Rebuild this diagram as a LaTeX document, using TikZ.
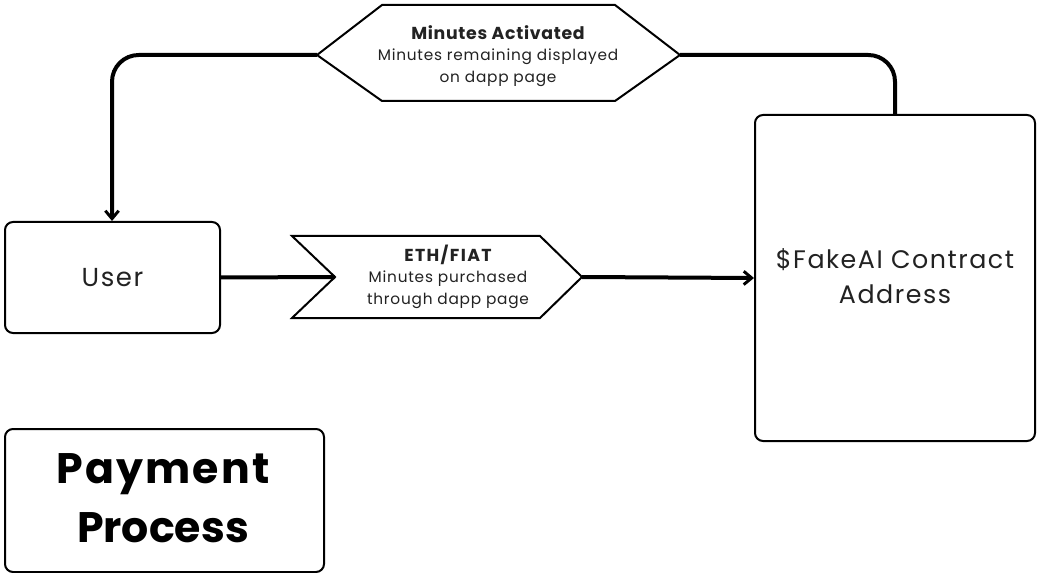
\documentclass[tikz,border=0pt]{standalone}
\usetikzlibrary{arrows.meta}
\usepackage{fontspec}
\setmainfont{Poppins}
\newfontfamily\popsp[LetterSpace=6]{Poppins}
\newfontfamily\popsm[LetterSpace=5]{Poppins}
\definecolor{txt}{HTML}{222222}
\begin{document}
\begin{tikzpicture}[x=0.75pt,y=-0.75pt,
  box/.style={draw=black,line width=1.5pt,rounded corners=6pt,fill=white},
  flow/.style={line width=3pt,rounded corners=20pt},
  tip/.style={-{Straight Barb[length=6pt,width=10pt,line width=2.2pt]}},
  small/.style={font=\popsm\fontsize{11.5}{16.5}\selectfont,text=txt,align=center},
  head/.style={font=\fontsize{13}{15}\bfseries\selectfont,text=txt}
]
\useasboundingbox (0,0) rectangle (1037,573);
% boxes
\node[box,minimum width=215*0.75pt,minimum height=111*0.75pt,anchor=north west] (user) at (4,221) {};
\node[font=\popsp\fontsize{19.5}{22}\selectfont,text=txt] at (user.center) {User};
\node[box,minimum width=280*0.75pt,minimum height=326*0.75pt,anchor=north west] (contract) at (754,114) {};
\node[font=\popsp\fontsize{19}{26}\selectfont,text=txt,align=center] at (895,276) {\$FakeAI Contract\\Address};
\node[box,minimum width=319*0.75pt,minimum height=143*0.75pt,anchor=north west] (title) at (4,428) {};
\node[font=\fontsize{32}{44}\bfseries\selectfont,align=center] at (163,498) {\addfontfeature{LetterSpace=5}Payment\\Process};
% hexagon
\draw[line width=1.5pt,fill=white,line join=miter] (317,55) -- (382,5) -- (615,5) -- (680,55) -- (615,101) -- (382,101) -- cycle;
\coordinate (hexL) at (317,55);
\coordinate (hexR) at (680,55);
\node[head] at (498,33) {\addfontfeature{LetterSpace=4}Minutes Activated};
\node[small] at (498,68) {Minutes remaining displayed\\on dapp page};
% chevron
\draw[line width=1.5pt,fill=white,line join=miter] (292,236) -- (540,236) -- (582,277) -- (540,318) -- (292,318) -- (335,277) -- cycle;
\coordinate (chL) at (335,277);
\coordinate (chR) at (582,277);
\node[head] at (448,255) {\addfontfeature{LetterSpace=8}ETH/FIAT};
\node[small] at (448,290) {Minutes purchased\\through dapp page};
% connectors
\coordinate (ctop) at (895,114);
\coordinate (utop) at (112,221);
\draw[line width=3pt] (user.east) -- (chL);
\draw[line width=3pt,tip] (chR) -- (contract.west);
\draw[flow] (hexR) -- (895,55) -- (ctop);
\draw[flow,tip] (hexL) -- (112,55) -- (utop);
\end{tikzpicture}
\end{document}
